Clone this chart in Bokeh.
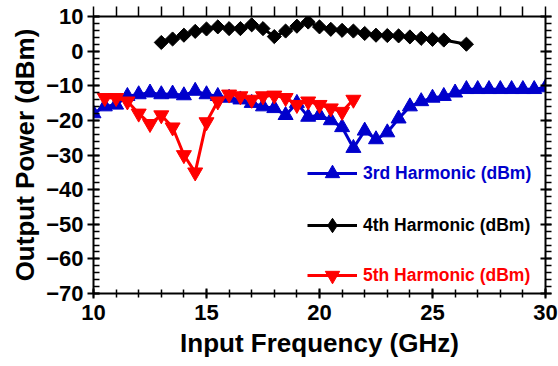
import numpy as np
from bokeh.plotting import figure
from bokeh.models import Range1d, LinearAxis, SingleIntervalTicker, Legend, LegendItem
from bokeh.embed import file_html
from bokeh.resources import INLINE

# ---- data ----
freq3 = [10, 10.5, 11, 11.5, 12, 12.5, 13, 13.5, 14, 14.5, 15, 15.5, 16, 16.5, 17, 17.5,
         18, 18.5, 19, 19.5, 20, 20.5, 21, 21.5, 22, 22.5, 23, 23.5, 24, 24.5, 25, 25.5,
         26, 26.5, 27, 27.5, 28, 28.5, 29, 29.5, 30]
harm3 = [-18, -16, -15.5, -13, -12.5, -12, -12.5, -12.3, -12.8, -11.5, -12.5, -13, -13.5, -14, -15, -16,
         -16.5, -18.5, -15, -19, -18.5, -20, -22, -28, -23, -25.5, -23.5, -19.5, -16, -14.5, -13.5, -13,
         -12, -11, -11, -11, -11, -11, -11, -11, -10.5]

freq4 = [13, 13.5, 14, 14.5, 15, 15.5, 16, 16.5, 17, 17.5, 18, 18.5, 19, 19.5, 20, 20.5,
         21, 21.5, 22, 22.5, 23, 23.5, 24, 24.5, 25, 25.5, 26.5]
harm4 = [2.5, 3.5, 4.6, 5.7, 6.4, 7.0, 6.5, 6.5, 7.6, 6.5, 4.2, 5.8, 7.2, 8.4, 7.0, 6.3,
         6.0, 5.8, 5.1, 4.6, 4.5, 4.4, 4.1, 3.7, 3.4, 3.2, 2.0]

freq5 = [10.5, 11, 11.5, 12, 12.5, 13, 13.5, 14, 14.5, 15, 15.5, 16, 16.5, 17, 17.5, 18,
         18.5, 19, 19.5, 20, 20.5, 21, 21.5]
harm5 = [-13.5, -13.5, -14.5, -18, -21, -18.5, -22, -30, -35, -20.5, -14.5, -12.5, -13, -14, -13, -12.8,
         -13.5, -15.5, -14.5, -15.5, -16.5, -17.5, -14]

labels = ["3rd Harmonic (dBm)", "4th Harmonic (dBm)", "5th Harmonic (dBm)"]
colors = ["#0000cc", "#000000", "#ff0000"]

FONT = "Liberation Sans"

p = figure(width=558, height=366, x_range=Range1d(10, 30), y_range=Range1d(-70, 10),
           output_backend="svg", toolbar_location=None,
           min_border_left=93, min_border_right=13, min_border_top=16, min_border_bottom=73)
p.grid.visible = False
p.outline_line_color = None
p.background_fill_color = "white"

# bottom axis
xa = p.xaxis[0]
xa.ticker = SingleIntervalTicker(interval=5, num_minor_ticks=5)
xa.axis_label = "Input Frequency (GHz)"
# left axis
ya = p.yaxis[0]
ya.ticker = SingleIntervalTicker(interval=10, num_minor_ticks=5)
ya.axis_label = "Output Power (dBm)"

for ax in (xa, ya):
    ax.axis_line_width = 2
    ax.major_tick_line_width = 2
    ax.minor_tick_line_width = 1.5
    ax.major_label_text_font = FONT
    ax.major_label_text_font_style = "bold"
    ax.major_label_text_font_size = "22px"
    ax.major_label_text_color = "black"
    ax.axis_label_text_font = FONT
    ax.axis_label_text_font_style = "bold"
    ax.axis_label_text_font_size = "26px"
    ax.axis_label_text_color = "black"

xa.major_tick_in = 5; xa.major_tick_out = 5
xa.minor_tick_in = 4; xa.minor_tick_out = 4
xa.major_label_standoff = 6
xa.axis_label_standoff = 5
ya.major_tick_in = 6; ya.major_tick_out = 6
ya.minor_tick_in = 6; ya.minor_tick_out = 0
ya.major_label_standoff = 4
ya.axis_label_standoff = 3

top = LinearAxis(ticker=SingleIntervalTicker(interval=1, num_minor_ticks=0),
                 major_label_text_font_size="1px", major_label_text_color=None,
                 major_label_standoff=0,
                 major_tick_in=0, major_tick_out=10, axis_line_width=2,
                 major_tick_line_width=1.5, minor_tick_line_color=None)
p.add_layout(top, "above")
right = LinearAxis(ticker=SingleIntervalTicker(interval=10, num_minor_ticks=5),
                   major_label_text_font_size="1px", major_label_text_color=None,
                   major_label_standoff=0,
                   major_tick_in=5, major_tick_out=6, minor_tick_in=0, minor_tick_out=6,
                   axis_line_width=2, major_tick_line_width=2, minor_tick_line_width=1.5)
p.add_layout(right, "right")

# series
r4l = p.line(freq4, harm4, line_color=colors[1], line_width=3)
# diamond glyph used for the legend (legend ignores marker angle); hidden under the squares
r4leg = p.scatter(freq4, harm4, marker="diamond", size=12,
                  fill_color=colors[1], line_color=colors[1])
r4m = p.scatter(freq4, harm4, marker="square", angle=np.pi / 4, size=10,
                fill_color=colors[1], line_color=colors[1])
r3l = p.line(freq3, harm3, line_color=colors[0], line_width=3)
r3m = p.scatter(freq3, harm3, marker="triangle", size=15,
                fill_color=colors[0], line_color=colors[0])
r5l = p.line(freq5, harm5, line_color=colors[2], line_width=3)
r5m = p.scatter(freq5, harm5, marker="inverted_triangle", size=15,
                fill_color=colors[2], line_color=colors[2])

renderers = [[r3l, r3m], [r4l, r4leg], [r5l, r5m]]
GH = 36
locs = [(214, 120 - GH // 2), (214, 68 - GH // 2), (214, 0)]
for lab, col, rs, loc in zip(labels, colors, renderers, locs):
    leg = Legend(items=[LegendItem(label=lab, renderers=rs)], location=loc,
                 glyph_width=50, glyph_height=GH, label_standoff=6,
                 padding=0, margin=0, border_line_alpha=0, background_fill_alpha=0,
                 label_text_color=col, label_text_font=FONT,
                 label_text_font_style="bold", label_text_font_size="17.5px")
    p.add_layout(leg)

open("out.html", "w").write(file_html(p, INLINE))
